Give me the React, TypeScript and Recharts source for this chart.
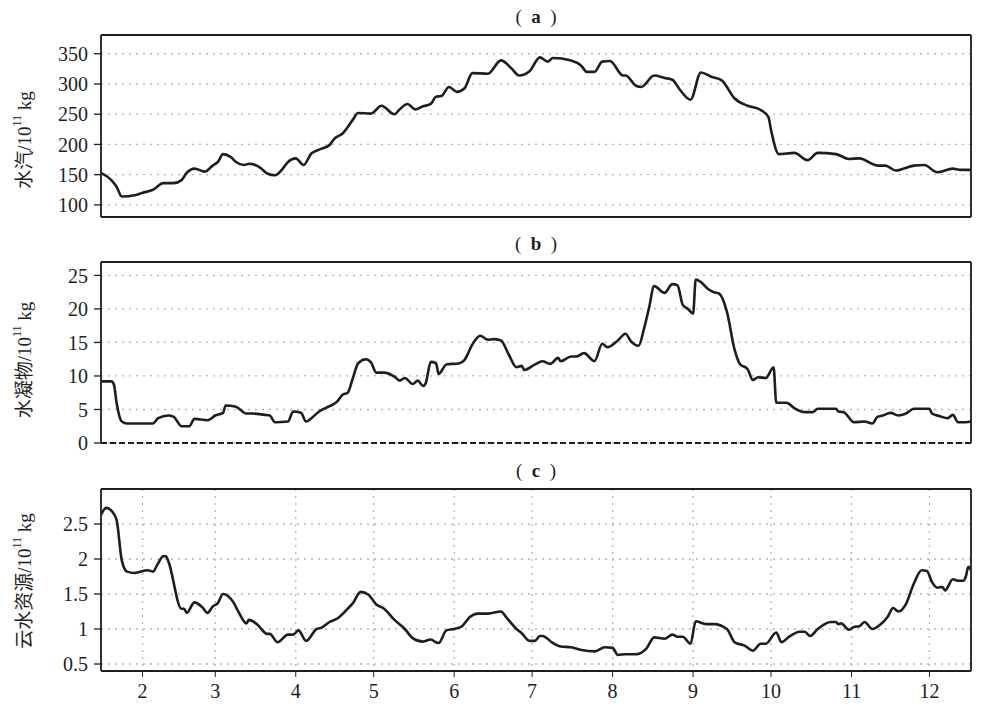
import { LineChart, Line, XAxis, YAxis, CartesianGrid, ReferenceLine } from 'recharts'

// x axis is day of year, ticks at the first day of each month
const monthTicks = [32, 60, 91, 121, 152, 182, 213, 244, 274, 305, 335]
const monthLabels = ['2', '3', '4', '5', '6', '7', '8', '9', '10', '11', '12']
const dayDomain: [number, number] = [16, 351]

// (a) water vapour
const vapourDays = [16, 20, 22, 24, 29, 32, 36, 40, 44, 47, 49, 52, 56, 59, 61, 63, 66, 68, 71, 73, 76, 78, 80, 83, 86, 88, 91, 94, 97, 101, 104, 106, 109, 113, 115, 120, 124, 129, 131, 134, 137, 140, 143, 145, 147, 150, 153, 156, 159, 165, 170, 174, 177, 181, 185, 188, 190, 197, 201, 203, 206, 209, 212, 217, 218, 222, 224, 229, 233, 236, 239, 243, 247, 251, 255, 260, 265, 270, 273, 274, 277, 283, 288, 292, 299, 304, 308, 315, 318, 322, 329, 333, 338, 344, 347, 351]
const vapourValues = [153, 141, 130, 114, 116, 120, 125, 136, 136, 141, 153, 160, 155, 165, 171, 184, 179, 171, 166, 168, 165, 159, 152, 149, 160, 171, 177, 166, 185, 193, 199, 210, 218, 241, 252, 251, 264, 250, 258, 267, 258, 263, 267, 279, 280, 295, 287, 293, 318, 317, 339, 326, 314, 321, 344, 337, 343, 339, 330, 320, 320, 337, 338, 314, 314, 297, 295, 314, 310, 307, 290, 274, 319, 312, 306, 276, 264, 257, 245, 224, 184, 186, 174, 186, 184, 176, 177, 165, 165, 157, 165, 166, 154, 160, 158, 158]
const vapourTicks = [100, 150, 200, 250, 300, 350]

// (b) hydrometeors
const hydroDays = [16, 20, 21, 22, 24, 26, 36, 38, 42, 44, 47, 50, 52, 57, 60, 63, 64, 68, 72, 74, 79, 81, 83, 88, 90, 93, 95, 97, 100, 104, 107, 109, 111, 113, 115, 118, 120, 122, 125, 129, 131, 133, 136, 138, 140, 141, 143, 145, 146, 149, 154, 156, 159, 162, 165, 167, 170, 173, 176, 178, 179, 183, 186, 189, 192, 193, 197, 199, 202, 206, 209, 211, 215, 218, 220, 223, 225, 227, 229, 233, 236, 238, 240, 242, 244, 245, 247, 250, 252, 254, 257, 260, 262, 265, 267, 269, 272, 275, 276, 280, 283, 287, 290, 292, 299, 300, 302, 306, 310, 313, 315, 317, 320, 323, 326, 329, 335, 336, 339, 342, 344, 346, 349, 351]
const hydroValues = [9.2, 9.2, 8.7, 6.0, 3.2, 2.9, 2.9, 3.7, 4.1, 3.9, 2.5, 2.5, 3.6, 3.4, 4.1, 4.5, 5.6, 5.4, 4.4, 4.4, 4.2, 4.1, 3.1, 3.2, 4.7, 4.5, 3.2, 3.7, 4.7, 5.5, 6.2, 7.2, 7.5, 9.7, 11.9, 12.5, 12.0, 10.5, 10.5, 9.9, 9.3, 9.7, 8.8, 9.3, 8.5, 8.9, 12.1, 11.9, 10.3, 11.7, 11.9, 12.4, 14.7, 16.0, 15.4, 15.5, 15.3, 13.2, 11.3, 11.5, 10.9, 11.7, 12.2, 11.8, 12.7, 12.2, 12.9, 12.9, 13.4, 12.2, 14.8, 14.3, 15.3, 16.3, 15.2, 14.5, 16.9, 20.1, 23.4, 22.4, 23.7, 23.5, 20.6, 20.0, 19.3, 24.4, 24.0, 22.9, 22.5, 22.3, 19.6, 13.9, 11.8, 11.0, 9.4, 9.8, 9.7, 11.3, 6.0, 6.0, 5.2, 4.6, 4.6, 5.1, 5.1, 4.7, 4.6, 3.1, 3.2, 2.9, 3.9, 4.1, 4.5, 4.1, 4.4, 5.1, 5.1, 4.4, 4.0, 3.7, 4.2, 3.1, 3.1, 3.2]
const hydroTicks = [0, 5, 10, 15, 20, 25]

// (c) cloud water resource
const cloudDays = [16, 18, 20, 22, 24, 26, 29, 34, 36, 38, 40, 41, 42, 47, 48, 49, 52, 55, 57, 59, 61, 63, 67, 69, 72, 73, 76, 80, 81, 84, 88, 90, 92, 95, 99, 101, 104, 107, 111, 113, 116, 119, 122, 125, 129, 133, 136, 140, 143, 145, 146, 149, 152, 155, 158, 161, 165, 170, 172, 176, 178, 181, 183, 185, 186, 190, 193, 197, 201, 206, 210, 213, 215, 218, 222, 226, 229, 233, 236, 238, 240, 243, 245, 249, 252, 257, 260, 264, 267, 270, 272, 276, 278, 281, 285, 287, 289, 292, 297, 299, 300, 301, 304, 306, 308, 310, 313, 316, 319, 321, 323, 326, 329, 332, 334, 336, 338, 340, 341, 344, 346, 348, 349, 350, 351]
const cloudValues = [2.63, 2.73, 2.69, 2.56, 1.98, 1.82, 1.80, 1.84, 1.82, 1.94, 2.04, 2.04, 1.96, 1.29, 1.29, 1.23, 1.38, 1.31, 1.23, 1.32, 1.37, 1.50, 1.38, 1.24, 1.08, 1.13, 1.07, 0.93, 0.93, 0.81, 0.92, 0.92, 0.98, 0.83, 1.00, 1.02, 1.10, 1.15, 1.29, 1.37, 1.53, 1.49, 1.35, 1.29, 1.13, 1.00, 0.87, 0.82, 0.85, 0.81, 0.80, 0.98, 1.00, 1.04, 1.17, 1.22, 1.22, 1.25, 1.17, 1.00, 0.94, 0.83, 0.83, 0.90, 0.90, 0.80, 0.75, 0.74, 0.70, 0.68, 0.74, 0.73, 0.63, 0.64, 0.64, 0.72, 0.88, 0.86, 0.92, 0.89, 0.89, 0.79, 1.11, 1.07, 1.07, 1.00, 0.81, 0.76, 0.69, 0.79, 0.79, 0.95, 0.81, 0.89, 0.96, 0.96, 0.90, 1.00, 1.10, 1.10, 1.07, 1.08, 0.99, 1.03, 1.04, 1.10, 1.00, 1.06, 1.18, 1.30, 1.25, 1.36, 1.65, 1.84, 1.83, 1.67, 1.59, 1.60, 1.55, 1.71, 1.69, 1.69, 1.75, 1.89, 1.84]
const cloudTicks = [0.5, 1, 1.5, 2, 2.5]

const FONT = "'Liberation Serif', 'Times New Roman', 'Noto Sans CJK SC', serif"
const INK = '#1e1e1e'
const GRID = '#a9baba'

function toRows(days: number[], values: number[]) {
  return days.map((day, i) => ({ day, v: values[i] }))
}

function AxisTitle({ cx, cy, text }: { cx: number; cy: number; text: string }) {
  return (
    <text
      x={cx}
      y={cy}
      transform={`rotate(-90, ${cx}, ${cy})`}
      textAnchor="middle"
      dominantBaseline="central"
      fill={INK}
      style={{ fontFamily: FONT, fontSize: 19 }}
    >
      {text}/10
      <tspan dy={-7} fontSize={12}>11</tspan>
      <tspan dy={7}> kg</tspan>
    </text>
  )
}

interface PanelProps {
  top: number
  height: number
  margin: { top: number; bottom: number }
  rows: { day: number; v: number }[]
  domain: [number, number]
  ticks: number[]
  letter: string
  label: string
  labelY: number
  showX?: boolean
  dashedZero?: boolean
  tickFmt?: (v: number) => string
}

function Panel({ top, height, margin, rows, domain, ticks, letter, label, labelY, showX, dashedZero, tickFmt }: PanelProps) {
  return (
    <div style={{ position: 'absolute', left: 0, top, width: 1000, height }}>
      <div
        style={{
          position: 'absolute',
          left: 436,
          width: 200,
          top: margin.top - 29,
          textAlign: 'center',
          fontFamily: FONT,
          fontSize: 19,
          color: INK,
          whiteSpace: 'pre',
        }}
      >
        {'(  '}
        <span style={{ fontWeight: 600 }}>{letter}</span>
        {'  )'}
      </div>
      <LineChart width={1000} height={height} data={rows} margin={{ top: margin.top, right: 29, bottom: margin.bottom, left: 0 }}>
        <CartesianGrid stroke={GRID} strokeDasharray="2 5" strokeWidth={1.3} />
        <XAxis
          type="number"
          dataKey="day"
          domain={dayDomain}
          ticks={monthTicks}
          allowDataOverflow
          axisLine={false}
          tickLine={showX ? { stroke: INK } : false}
          tick={showX ? { fill: INK, fontSize: 20, fontFamily: FONT } : false}
          tickFormatter={(d: number) => monthLabels[monthTicks.indexOf(d)] ?? ''}
          tickSize={6}
          tickMargin={7}
          height={showX ? 40 : 0}
        />
        <YAxis
          type="number"
          domain={domain}
          ticks={ticks}
          allowDataOverflow
          width={101}
          axisLine={false}
          tickLine={{ stroke: INK, strokeWidth: 1.3 }}
          tickSize={7}
          tickMargin={6}
          tick={{ fill: INK, fontSize: 20, fontFamily: FONT }}
          tickFormatter={tickFmt}
          label={{ content: () => <AxisTitle cx={24} cy={labelY} text={label} /> }}
        />
        <ReferenceLine x={dayDomain[0]} stroke={INK} strokeWidth={1.8} />
        <ReferenceLine x={dayDomain[1]} stroke={INK} strokeWidth={1.8} />
        <ReferenceLine y={domain[1]} stroke={INK} strokeWidth={1.8} />
        <ReferenceLine
          y={domain[0]}
          stroke={INK}
          strokeWidth={1.8}
          strokeDasharray={dashedZero ? '6 3' : undefined}
        />
        <Line
          type="monotone"
          dataKey="v"
          stroke={INK}
          strokeWidth={2.6}
          dot={false}
          isAnimationActive={false}
        />
      </LineChart>
    </div>
  )
}

export default function App() {
  return (
    <div style={{ position: 'absolute', left: 0, top: 0, width: 1000, height: 711, background: '#fff' }}>
      <Panel
        top={0}
        height={230}
        margin={{ top: 35, bottom: 13 }}
        rows={toRows(vapourDays, vapourValues)}
        domain={[80, 381]}
        ticks={vapourTicks}
        letter="a"
        label="水汽"
        labelY={140}
      />
      <Panel
        top={230}
        height={230}
        margin={{ top: 32, bottom: 17 }}
        rows={toRows(hydroDays, hydroValues)}
        domain={[0, 27]}
        ticks={hydroTicks}
        letter="b"
        label="水凝物"
        labelY={130}
        dashedZero
      />
      <Panel
        top={460}
        height={251}
        margin={{ top: 29, bottom: 0 }}
        rows={toRows(cloudDays, cloudValues)}
        domain={[0.4, 3.0]}
        ticks={cloudTicks}
        letter="c"
        label="云水资源"
        labelY={121}
        showX
        tickFmt={(v: number) => String(v)}
      />
    </div>
  )
}
